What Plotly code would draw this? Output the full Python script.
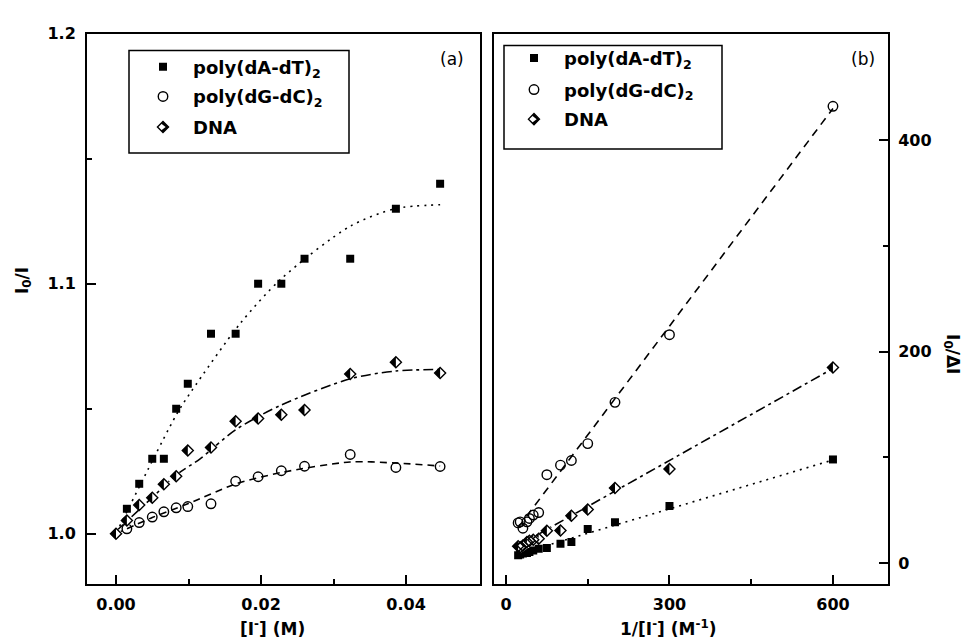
import plotly.graph_objects as go

W, H = 964, 640

# ---------------- data ----------------
# panel (a): I0/I vs [I-]
conc = [0.0015, 0.0032, 0.0050, 0.0066, 0.0083, 0.0099, 0.0131, 0.0165,
        0.0196, 0.0228, 0.0260, 0.0323, 0.0386, 0.0447]
a_dAdT = [1.010, 1.020, 1.030, 1.030, 1.050, 1.060, 1.080, 1.080,
          1.100, 1.100, 1.110, 1.110, 1.130, 1.140]
a_dGdC = [1.002, 1.0045, 1.0067, 1.0088, 1.0104, 1.0109, 1.012, 1.021,
          1.0228, 1.0252, 1.027, 1.0317, 1.0265, 1.0269]
conc_dna = [0.0] + conc
a_DNA = [1.000, 1.0053, 1.0115, 1.0144, 1.0198, 1.023, 1.0333, 1.0345,
         1.045, 1.0461, 1.0476, 1.0495, 1.0639, 1.0686, 1.0643]

# fitted curves of panel (a)
fit_a_dAdT_x = [0.0005, 0.0084, 0.0104, 0.0171, 0.0228, 0.0323, 0.0385, 0.0447]
fit_a_dAdT_y = [1.003, 1.048, 1.057, 1.084, 1.102, 1.123, 1.130, 1.1316]
fit_a_dGdC_x = [0.0, 0.005, 0.0099, 0.0165, 0.0228, 0.0323, 0.0386, 0.0447]
fit_a_dGdC_y = [1.0, 1.0065, 1.012, 1.0199, 1.0245, 1.0287, 1.0283, 1.0271]
fit_a_DNA_x = [0.0, 0.005, 0.0083, 0.0116, 0.0165, 0.0228, 0.0323, 0.0386, 0.0447]
fit_a_DNA_y = [1.001, 1.0145, 1.0235, 1.030, 1.0416, 1.0515, 1.062, 1.0651, 1.0657]

# panel (b): I0/dI vs 1/[I-]
inv = [600, 300, 200, 150, 120, 100, 75, 60, 50, 43, 38.5, 31, 26, 22.3]
b_dAdT = [98, 54, 38.5, 32.3, 20, 18.3, 14.3, 13.5, 12, 10.5, 9.6, 9, 8.2, 7.5]
b_dGdC = [432, 216, 152, 113, 97, 92.6, 83.6, 47.8, 45.4, 42.2, 39, 33, 39, 38]
b_DNA = [185, 89, 71, 50.6, 44.8, 30.8, 30.5, 23, 22, 21, 20, 16.5, 15, 16]

fit_b_x = [22.3, 600]
fit_b_dAdT = [8.5, 97.5]
fit_b_dGdC = [33.5, 430]
fit_b_DNA = [16.5, 184]

names = ["poly(dA-dT)<sub>2</sub>", "poly(dG-dC)<sub>2</sub>", "DNA"]

# ---------------- styling ----------------
FONT = "DejaVu Sans"
DIAM = 8.5
TRI = 10.5
STANDOFF = TRI / 4  # half of triangle radius -> base on the centre line

fig = go.Figure()


def lines(xa, ya, x, y, dash, spline):
    fig.add_trace(go.Scatter(
        x=x, y=y, mode="lines", xaxis=xa, yaxis=ya, showlegend=False,
        line=dict(color="black", width=1.6, dash=dash,
                  shape="spline" if spline else "linear", smoothing=0.8),
        hoverinfo="skip"))


def points(xa, ya, x, y, kind, legs):
    if kind == 0:
        fig.add_trace(go.Scatter(
            x=x, y=y, mode="markers", xaxis=xa, yaxis=ya, name=names[0],
            legend=legs[0],
            marker=dict(symbol="square", size=8, color="black",
                        line=dict(width=0))))
    elif kind == 1:
        fig.add_trace(go.Scatter(
            x=x, y=y, mode="markers", xaxis=xa, yaxis=ya, name=names[1],
            legend=legs[0],
            marker=dict(symbol="circle-open", size=9.5, color="black",
                        line=dict(width=1.4, color="black"))))
    else:
        # half-filled diamond: black diamond, white right half, outline
        fig.add_trace(go.Scatter(
            x=x, y=y, mode="markers", xaxis=xa, yaxis=ya, name=names[2],
            legend=legs[0],
            marker=dict(symbol="diamond", size=DIAM, color="black",
                        line=dict(width=0))))
        fig.add_trace(go.Scatter(
            x=x, y=y, mode="markers", xaxis=xa, yaxis=ya, name="",
            legend=legs[1],
            marker=dict(symbol="triangle-down", size=TRI, color="white",
                        angle=-90, standoff=STANDOFF, line=dict(width=0))))
        fig.add_trace(go.Scatter(
            x=x, y=y, mode="markers", xaxis=xa, yaxis=ya, name="",
            legend=legs[2],
            marker=dict(symbol="diamond-open", size=DIAM, color="black",
                        line=dict(width=1.4, color="black"))))


# panel (a)
lines("x", "y", fit_a_dAdT_x, fit_a_dAdT_y, "2px,5px", True)
lines("x", "y", fit_a_dGdC_x, fit_a_dGdC_y, "7px,5px", True)
lines("x", "y", fit_a_DNA_x, fit_a_DNA_y, "10px,4px,3px,4px", True)
points("x", "y", conc, a_dAdT, 0, ["legend"])
points("x", "y", conc, a_dGdC, 1, ["legend2"])
points("x", "y", conc_dna, a_DNA, 2, ["legend3", "legend4", "legend5"])

# panel (b)
lines("x2", "y2", fit_b_x, fit_b_dAdT, "2px,5px", False)
lines("x2", "y2", fit_b_x, fit_b_dGdC, "8px,6px", False)
lines("x2", "y2", fit_b_x, fit_b_DNA, "10px,4px,3px,4px", False)
points("x2", "y2", inv, b_dAdT, 0, ["legend6"])
points("x2", "y2", inv, b_dGdC, 1, ["legend7"])
points("x2", "y2", inv, b_DNA, 2, ["legend8", "legend9", "legend10"])

tickfont = dict(family=FONT, size=16, color="black", weight="bold")
common = dict(showline=True, linecolor="black", linewidth=2, mirror=True,
              ticks="inside", ticklen=9, tickwidth=2, tickcolor="black",
              showgrid=False, zeroline=False, tickfont=tickfont)


def px_x(p):
    return p / W


def px_y(p):
    return 1 - p / H


minor_style = dict(ticks="inside", ticklen=5, tickwidth=2, tickcolor="black")

fig.update_layout(
    width=W, height=H, margin=dict(l=0, r=0, t=0, b=0),
    paper_bgcolor="white", plot_bgcolor="white",
    xaxis=dict(domain=[px_x(87), px_x(480)], range=[-0.0040, 0.0502],
               tickvals=[0, 0.02, 0.04], ticktext=["0.00", "0.02", "0.04"],
               minor=dict(tickvals=[0.01, 0.03], **minor_style),
               ticklabelstandoff=5, anchor="y", **common),
    yaxis=dict(domain=[px_y(583), px_y(25)], range=[0.98, 1.2],
               tickvals=[1.0, 1.1, 1.2], ticktext=["1.0", "1.1", "1.2"],
               minor=dict(tickvals=[1.05, 1.15], **minor_style),
               ticklabelstandoff=6, anchor="x", **common),
    xaxis2=dict(domain=[px_x(494), px_x(888)], range=[-22, 701],
                tickvals=[0, 300, 600],
                minor=dict(tickvals=[150, 450], **minor_style),
                ticklabelstandoff=5, anchor="y2", **common),
    yaxis2=dict(domain=[px_y(583), px_y(25)], range=[-19.6, 500.7],
                tickvals=[0, 200, 400], side="right",
                minor=dict(tickvals=[100, 300], **minor_style),
                ticklabelstandoff=5, anchor="x2", **common),
)

# legend boxes
for x0, y0, x1, y1 in [(129, 42, 349, 146), (504, 37, 722, 142)]:
    fig.add_shape(type="rect", xref="paper", yref="paper",
                  x0=px_x(x0), x1=px_x(x1), y0=px_y(y1), y1=px_y(y0),
                  line=dict(color="black", width=1.5), fillcolor="rgba(0,0,0,0)")

legfont = dict(family=FONT, size=18, color="black", weight="bold")
ITEMW = 50
MOFF = (ITEMW + 10) / 2  # marker centre offset inside a legend
YOFF = 8


def leg(mx, my):
    return dict(x=px_x(mx - MOFF), y=px_y(my - YOFF), xanchor="left",
                yanchor="middle", bgcolor="rgba(0,0,0,0)", borderwidth=0,
                font=legfont, itemwidth=ITEMW, tracegroupgap=0)


rows_a = [(163, 67), (163, 97), (163, 128)]
rows_b = [(534, 58), (534, 90), (534, 120)]
layout_leg = {}
layout_leg["legend"] = leg(*rows_a[0])
layout_leg["legend2"] = leg(*rows_a[1])
for k in ["legend3", "legend4", "legend5"]:
    layout_leg[k] = leg(*rows_a[2])
layout_leg["legend6"] = leg(*rows_b[0])
layout_leg["legend7"] = leg(*rows_b[1])
for k in ["legend8", "legend9", "legend10"]:
    layout_leg[k] = leg(*rows_b[2])
fig.update_layout(**layout_leg)

titlefont = dict(family=FONT, size=17, color="black", weight="bold")
ann = [
    dict(text="[I<sup>-</sup>] (M)", x=px_x(272), y=px_y(628), textangle=0),
    dict(text="1/[I<sup>-</sup>] (M<sup>-1</sup>)", x=px_x(668), y=px_y(628), textangle=0),
    dict(text="I<sub>0</sub>/I", x=px_x(23), y=px_y(276), textangle=-90),
    dict(text="I<sub>0</sub>/\u0394I", x=px_x(952), y=px_y(350), textangle=90),
]
for a in ann:
    fig.add_annotation(xref="paper", yref="paper", showarrow=False,
                       xanchor="center", yanchor="middle", font=titlefont, **a)
for t, x in [("(a)", 452), ("(b)", 863)]:
    fig.add_annotation(xref="paper", yref="paper", showarrow=False, text=t,
                       x=px_x(x), y=px_y(51), xanchor="center", yanchor="middle",
                       font=dict(family=FONT, size=17, color="black"))

fig.write_html("out.html")
